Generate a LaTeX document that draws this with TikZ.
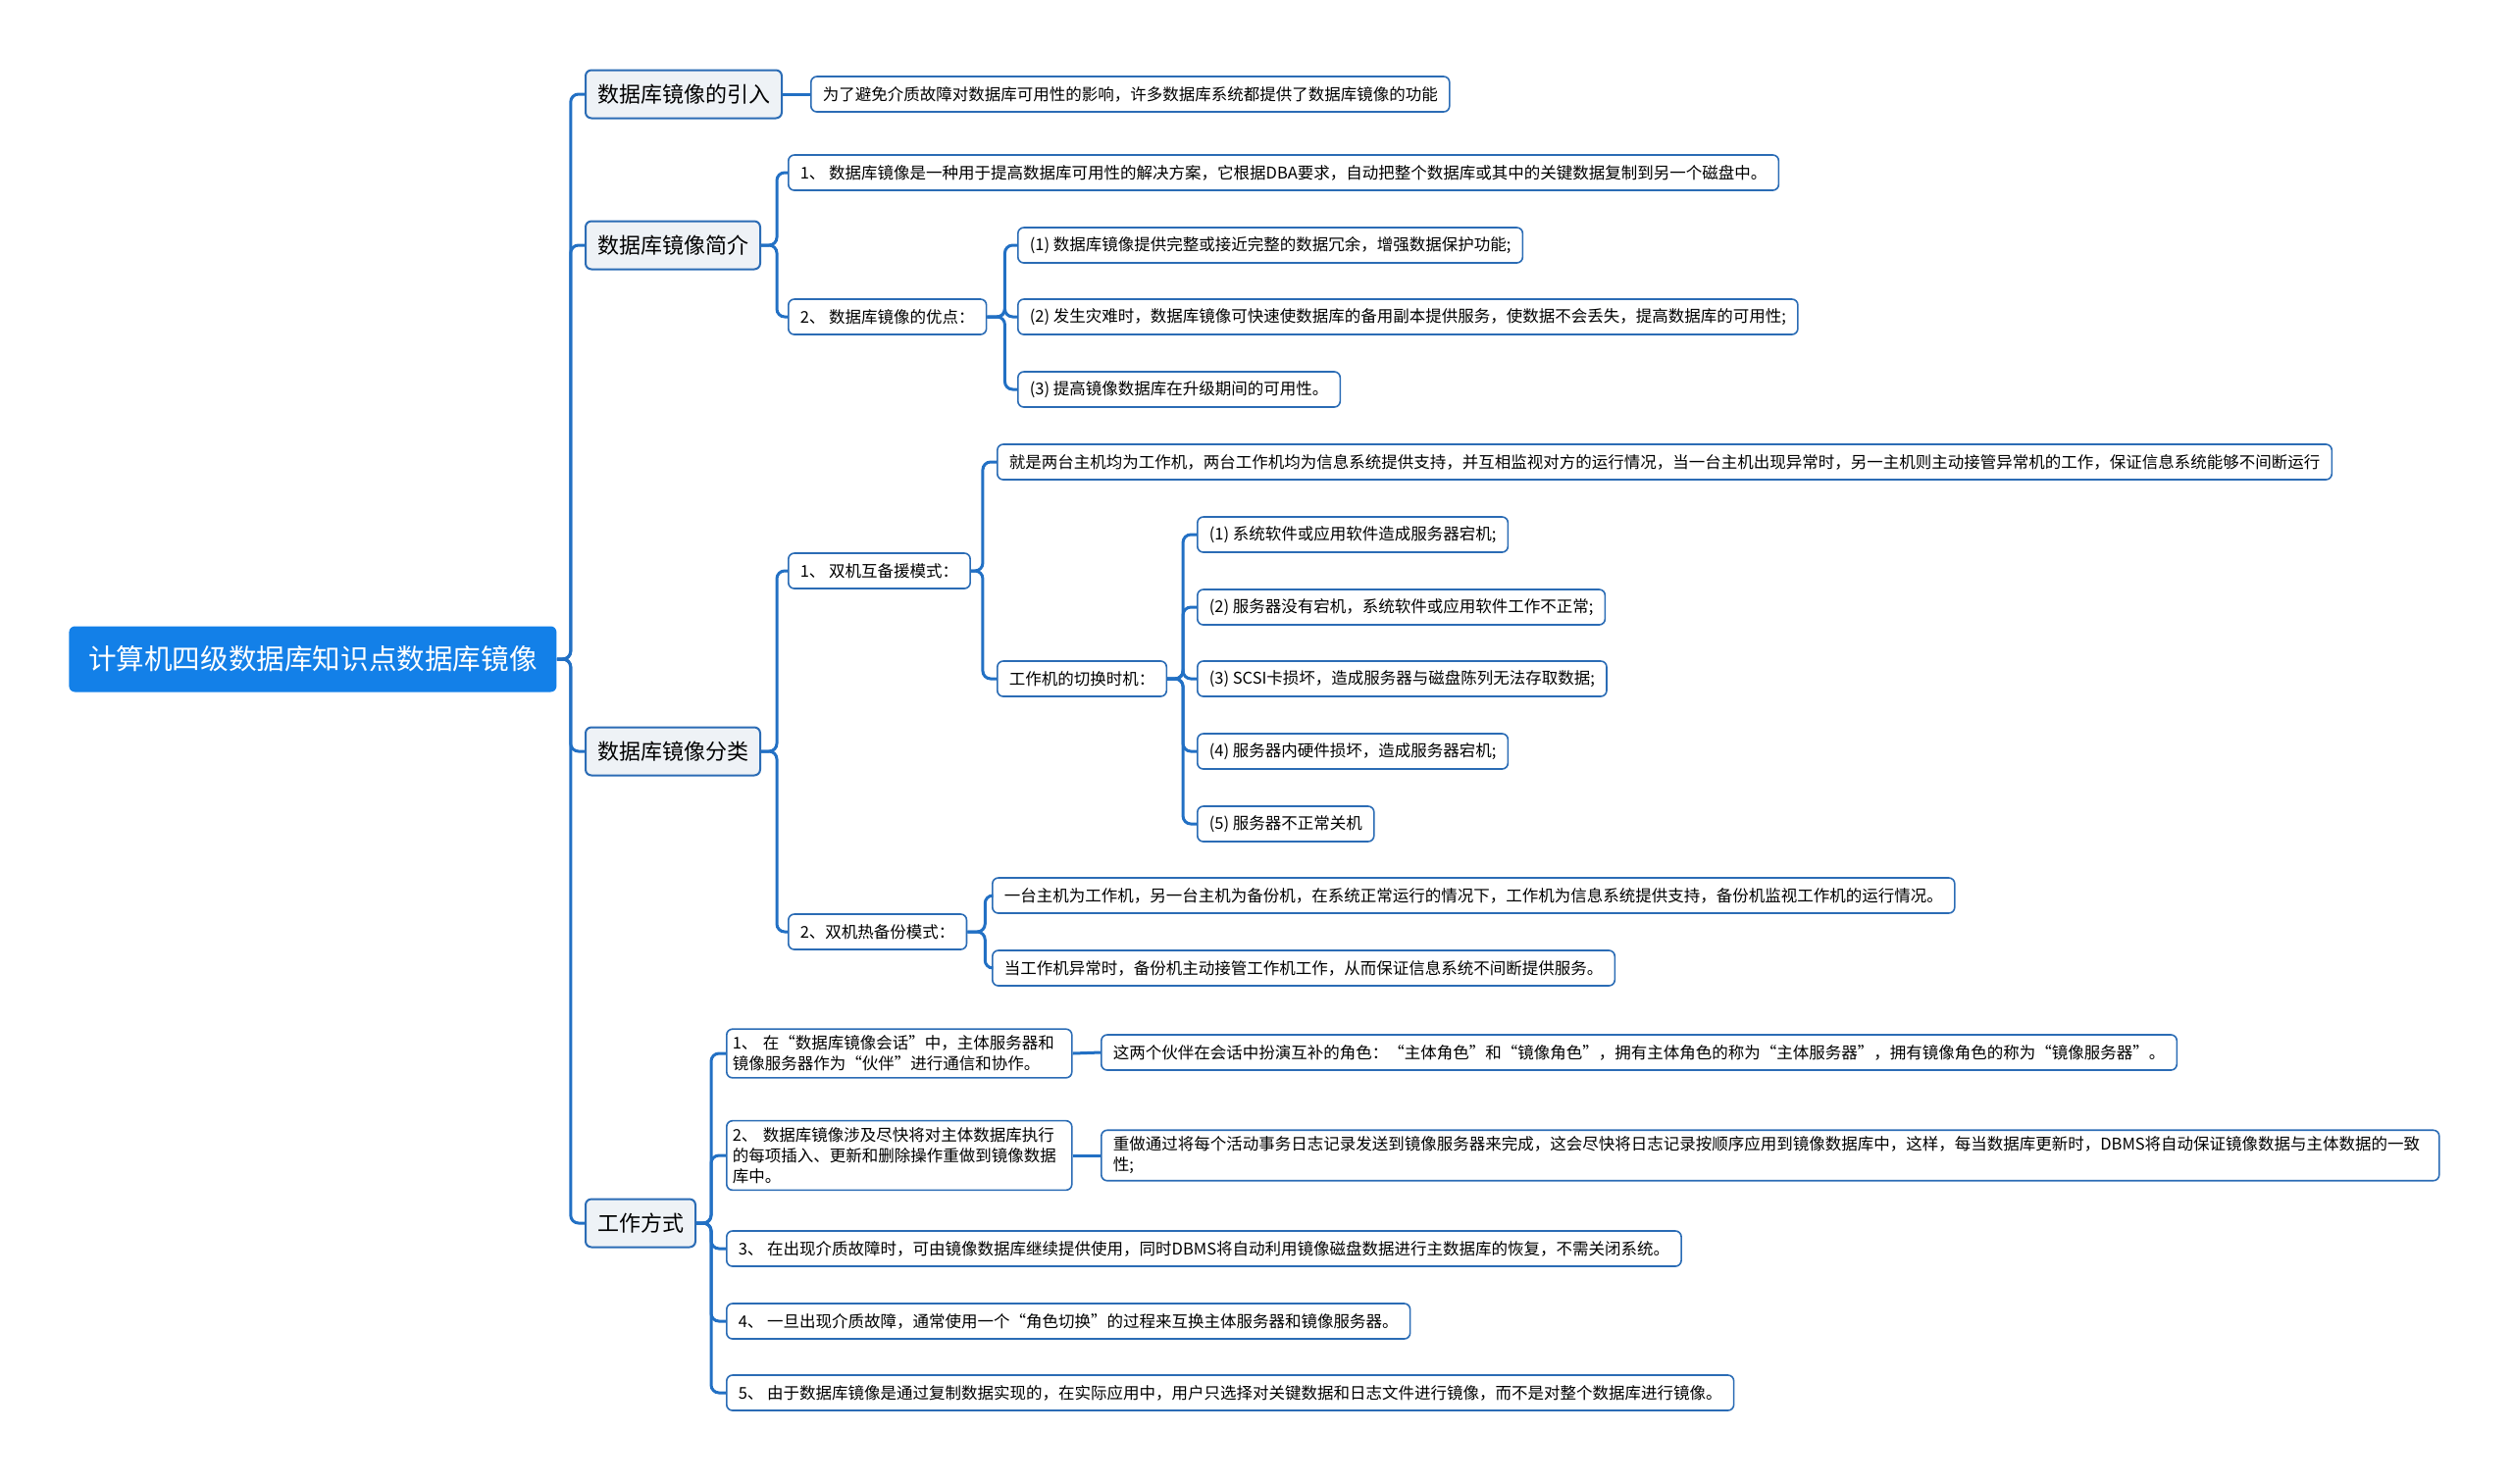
\documentclass[tikz,border=0pt]{standalone}
\usepackage{fontspec}
\usepackage{xcolor}
\usepackage{tikz}
\newfontfamily\cjk{Noto Sans CJK SC}
\definecolor{rootblue}{HTML}{1380E8}
\definecolor{edgeblue}{HTML}{2B6CB5}
\definecolor{lineblue}{HTML}{2270C4}
\definecolor{topicfill}{HTML}{EEF2F6}

\begin{document}
\begin{tikzpicture}[
  x=0.5pt, y=-0.5pt,
  rootnode/.style={fill=rootblue, text=white, rounded corners=3pt, anchor=west,
    minimum width=248.5pt, minimum height=33.5pt, font=\cjk\fontsize{14.3}{17}\selectfont},
  topic/.style={draw=edgeblue, fill=topicfill, line width=1pt, rounded corners=3pt, anchor=west,
    inner xsep=6pt, minimum height=24.5pt, font=\cjk\fontsize{11}{13}\selectfont},
  leaf/.style={draw=edgeblue, fill=white, line width=0.8pt, rounded corners=3pt, anchor=west,
    inner xsep=6pt, minimum height=18pt, font=\cjk\fontsize{8.25}{10.5}\selectfont},
  link/.style={draw=lineblue, line width=1.5pt, rounded corners=4pt},
]
  \useasboundingbox (0,0) rectangle (2560,1512);

  % root and main topics
  \node[rootnode] (root) at (70,672) {计算机四级数据库知识点数据库镜像};
  \node[topic] (intro) at (596,96)   {数据库镜像的引入};
  \node[topic] (brief) at (596,250)  {数据库镜像简介};
  \node[topic] (kinds) at (596,766)  {数据库镜像分类};
  \node[topic] (work)  at (596,1247) {工作方式};

  % intro
  \node[leaf] (introtxt) at (826,96) {为了避免介质故障对数据库可用性的影响，许多数据库系统都提供了数据库镜像的功能};

  % brief
  \node[leaf] (b1) at (803,176) {1、 数据库镜像是一种用于提高数据库可用性的解决方案，它根据DBA要求，自动把整个数据库或其中的关键数据复制到另一个磁盘中。};
  \node[leaf] (b2) at (803,323) {2、 数据库镜像的优点：};
  \node[leaf] (adv1) at (1037,250) {(1) 数据库镜像提供完整或接近完整的数据冗余，增强数据保护功能;};
  \node[leaf] (adv2) at (1037,323) {(2) 发生灾难时，数据库镜像可快速使数据库的备用副本提供服务，使数据不会丢失，提高数据库的可用性;};
  \node[leaf] (adv3) at (1037,397) {(3) 提高镜像数据库在升级期间的可用性。};

  % kinds
  \node[leaf] (k1) at (803,582) {1、 双机互备援模式：};
  \node[leaf] (k1a) at (1016,471) {就是两台主机均为工作机，两台工作机均为信息系统提供支持，并互相监视对方的运行情况，当一台主机出现异常时，另一主机则主动接管异常机的工作，保证信息系统能够不间断运行};
  \node[leaf] (k1b) at (1016,692) {工作机的切换时机：};
  \node[leaf] (sw1) at (1220,545) {(1) 系统软件或应用软件造成服务器宕机;};
  \node[leaf] (sw2) at (1220,619) {(2) 服务器没有宕机，系统软件或应用软件工作不正常;};
  \node[leaf] (sw3) at (1220,692) {(3) SCSI卡损坏，造成服务器与磁盘陈列无法存取数据;};
  \node[leaf] (sw4) at (1220,766) {(4) 服务器内硬件损坏，造成服务器宕机;};
  \node[leaf] (sw5) at (1220,840) {(5) 服务器不正常关机};
  \node[leaf] (k2) at (803,950) {2、双机热备份模式：};
  \node[leaf] (k2a) at (1011,913) {一台主机为工作机，另一台主机为备份机，在系统正常运行的情况下，工作机为信息系统提供支持，备份机监视工作机的运行情况。};
  \node[leaf] (k2b) at (1011,987) {当工作机异常时，备份机主动接管工作机工作，从而保证信息系统不间断提供服务。};

  % work
  \node[leaf, text width=170pt, inner xsep=3pt, align=left] (w1) at (740,1074)
    {1、~在“数据库镜像会话”中，主体服务器和\\镜像服务器作为“伙伴”进行通信和协作。};
  \node[leaf] (w1a) at (1122,1073) {这两个伙伴在会话中扮演互补的角色：“主体角色”和“镜像角色”，拥有主体角色的称为“主体服务器”，拥有镜像角色的称为“镜像服务器”。};
  \node[leaf, text width=170pt, inner xsep=3pt, align=left] (w2) at (740,1178)
    {2、~数据库镜像涉及尽快将对主体数据库执行\\的每项插入、更新和删除操作重做到镜像数据\\库中。};
  \node[leaf, text width=670pt, align=left] (w2a) at (1122,1178)
    {重做通过将每个活动事务日志记录发送到镜像服务器来完成，这会尽快将日志记录按顺序应用到镜像数据库中，这样，每当数据库更新时，DBMS将自动保证镜像数据与主体数据的一致\\性;};
  \node[leaf] (w3) at (740,1273) {3、 在出现介质故障时，可由镜像数据库继续提供使用，同时DBMS将自动利用镜像磁盘数据进行主数据库的恢复，不需关闭系统。};
  \node[leaf] (w4) at (740,1347) {4、 一旦出现介质故障，通常使用一个“角色切换”的过程来互换主体服务器和镜像服务器。};
  \node[leaf] (w5) at (740,1420) {5、 由于数据库镜像是通过复制数据实现的，在实际应用中，用户只选择对关键数据和日志文件进行镜像，而不是对整个数据库进行镜像。};

  % connectors
  \foreach \t in {intro,brief,kinds,work}
    \draw[link] (root.east) -- ++(14,0) |- (\t.west);
  \draw[link] (intro.east) -- (introtxt.west);
  \foreach \t in {b1,b2}
    \draw[link] (brief.east) -- ++(16,0) |- (\t.west);
  \foreach \t in {adv1,adv2,adv3}
    \draw[link] (b2.east) -- ++(18,0) |- (\t.west);
  \foreach \t in {k1,k2}
    \draw[link] (kinds.east) -- ++(16,0) |- (\t.west);
  \foreach \t in {k1a,k1b}
    \draw[link] (k1.east) -- ++(12,0) |- (\t.west);
  \foreach \t in {sw1,sw2,sw3,sw4,sw5}
    \draw[link] (k1b.east) -- ++(16,0) |- (\t.west);
  \foreach \t in {k2a,k2b}
    \draw[link] (k2.east) -- ++(18,0) |- (\t.west);
  \foreach \t in {w1,w2,w3,w4,w5}
    \draw[link] (work.east) -- ++(15,0) |- (\t.west);
  \draw[link] (w1.east) -- (w1a.west);
  \draw[link] (w2.east) -- (w2a.west);
\end{tikzpicture}
\end{document}
